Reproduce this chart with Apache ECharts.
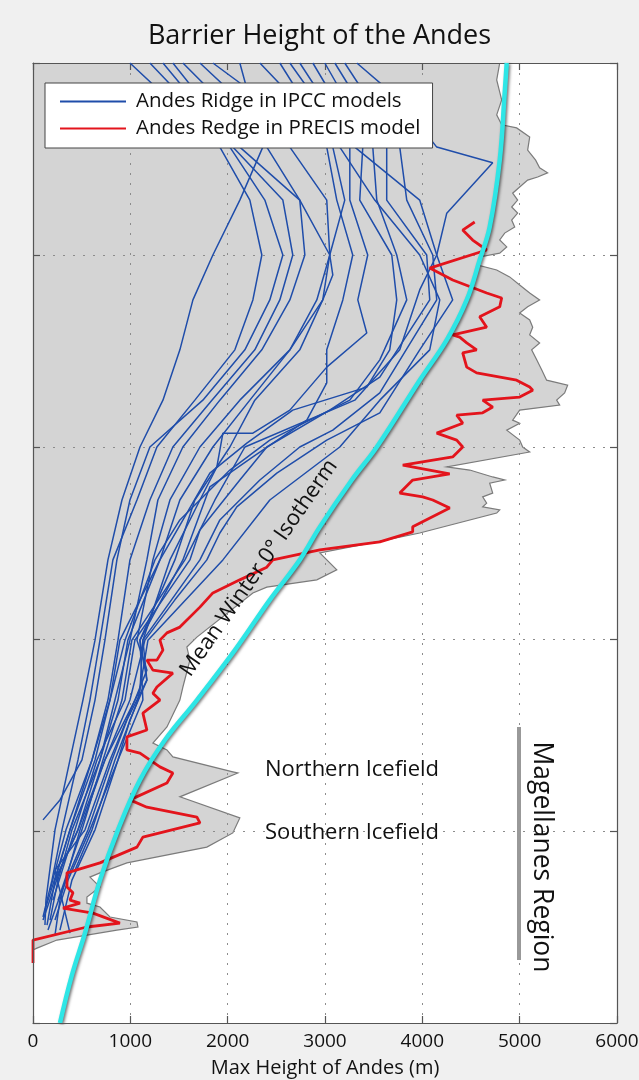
<!DOCTYPE html>
<html>
<head>
<meta charset="utf-8">
<title>Barrier Height of the Andes</title>
<script src="https://cdn.jsdelivr.net/npm/echarts@6/dist/echarts.min.js"></script>
<style>
  html, body { margin: 0; padding: 0; background: #f0f0f0; }
  #chart { width: 639px; height: 1080px; }
</style>
</head>
<body>
<div id="chart"></div>
<script>
// x = max ridge height (m), y = latitude (deg, negative = south)
const xTicks = [0, 1000, 2000, 3000, 4000, 5000, 6000];

// observed max terrain height (grey area outline)
const terrain = [[4795,-30],[4764,-30.44],[4815,-30.96],[4764,-31.35],[4815,-31.61],[4969,-31.69],[5103,-31.93],
  [5082,-32.27],[5164,-32.53],[5205,-32.73],[5287,-32.86],[5185,-32.97],[5082,-33.05],[5000,-33.23],[4928,-33.39],
  [4979,-33.57],[4918,-33.75],[4979,-33.91],[4918,-34.09],[4949,-34.27],[4846,-34.43],[4795,-34.61],[4867,-34.79],
  [4795,-34.95],[4589,-35.05],[4569,-35.26],[4764,-35.39],[4897,-35.57],[5000,-35.78],[5103,-35.99],[5205,-36.17],
  [5082,-36.35],[5000,-36.51],[5103,-36.69],[5134,-36.88],[5103,-37.08],[5205,-37.29],[5123,-37.47],[5175,-37.73],
  [5226,-37.99],[5277,-38.26],[5493,-38.39],[5462,-38.59],[5380,-38.78],[5411,-38.91],[5000,-39.04],[4928,-39.3],
  [5000,-39.38],[4867,-39.56],[5000,-39.82],[5031,-40],[5103,-40.13],[4251,-40.52],[4487,-40.6],[4723,-40.78],
  [4846,-40.86],[4692,-40.94],[4723,-41.2],[4620,-41.3],[4661,-41.46],[4620,-41.56],[4795,-41.64],[4764,-41.72],
  [3973,-42.24],[3634,-42.42],[2947,-42.76],[3121,-43.2],[2916,-43.46],[2402,-43.65],[2259,-43.8],[1684,-44.95],
  [1581,-45.21],[1612,-45.55],[1540,-46.25],[1509,-46.59],[1376,-47.29],[1232,-47.71],[1376,-47.89],[1437,-48.07],
  [2053,-48.46],[2105,-48.49],[1509,-49.11],[2125,-49.66],[2053,-50.05],[1786,-50.42],[965,-50.83],[688,-51.09],
  [585,-51.2],[688,-51.46],[554,-51.72],[554,-51.88],[688,-51.98],[791,-52.24],[1068,-52.37],[1078,-52.5],
  [862,-52.58],[246,-52.84],[41,-53.05],[0,-53.1]];

// PRECIS regional model ridge
const precis = [[4538,-34.14],[4415,-34.35],[4517,-34.61],[4661,-34.87],[4076,-35.34],[4312,-35.65],[4661,-35.99],
  [4815,-36.12],[4795,-36.35],[4589,-36.61],[4661,-36.88],[4312,-37.08],[4384,-37.14],[4456,-37.29],[4558,-37.47],
  [4415,-37.55],[4456,-37.92],[4558,-38.07],[4969,-38.26],[5103,-38.44],[5134,-38.52],[5000,-38.7],[4620,-38.78],
  [4723,-38.96],[4620,-39.11],[4353,-39.17],[4415,-39.38],[4148,-39.64],[4353,-39.82],[4415,-40],[4312,-40.26],
  [3799,-40.47],[4281,-40.7],[3901,-40.86],[3768,-41.2],[4004,-41.3],[4107,-41.38],[4281,-41.59],[3901,-42.08],
  [3901,-42.21],[3563,-42.47],[2947,-42.68],[2464,-42.94],[2402,-43.13],[2125,-43.46],[1848,-43.8],[1715,-44.17],
  [1509,-44.69],[1376,-44.84],[1304,-45.03],[1335,-45.29],[1273,-45.55],[1170,-45.55],[1232,-45.81],[1437,-45.89],
  [1273,-46.25],[1232,-46.41],[1304,-46.59],[1129,-46.93],[1170,-47.37],[965,-47.55],[965,-47.89],[1099,-47.97],
  [1304,-48.33],[1437,-48.49],[1376,-48.75],[996,-49.19],[1170,-49.38],[1684,-49.64],[1715,-49.79],[1129,-50.16],
  [1068,-50.42],[688,-50.83],[349,-51.09],[349,-51.46],[411,-51.61],[380,-51.8],[483,-51.88],[308,-52.01],
  [616,-52.14],[893,-52.4],[554,-52.5],[0,-52.84],[0,-53.44]];

// mean winter 0 degree isotherm
const isotherm = [[277,-55],[400,-53.75],[534,-52.66],[688,-51.28],[873,-49.97],[1099,-48.67],[1355,-47.63],
  [1684,-46.59],[2074,-45.29],[2433,-43.98],[2741,-42.94],[2947,-42.08],[3275,-40.86],[3532,-40],[3973,-38.26],
  [4251,-37.21],[4456,-36.17],[4589,-35.13],[4692,-34.27],[4795,-32.53],[4846,-30.78],[4867,-30]];

// IPCC model ridges
const m01 = [[2125,-30],[2361,-32.19],[2125,-33.57],[1848,-35],[1643,-36.17],[1509,-37.47],[1335,-38.78],[1099,-40],[914,-41.38],[770,-42.94],[637,-45.03],[513,-46.59],[380,-48.15],[226,-49.97],[133,-51.8],[123,-52.45]];
const m02 = [[996,-30],[1920,-32.19],[2228,-33.57],[2351,-35],[2259,-36.17],[2074,-37.47],[1663,-38.78],[1273,-40],[1068,-41.38],[821,-42.94],[688,-45.03],[585,-46.59],[462,-48.15],[298,-49.97],[195,-51.28],[103,-52.24]];
const m03 = [[1335,-30],[2053,-32.19],[2567,-33.57],[2669,-35],[2536,-36.17],[2279,-37.47],[1838,-38.78],[1437,-40],[1201,-41.38],[996,-42.94],[873,-45.03],[770,-46.59],[606,-48.15],[380,-49.97],[226,-51.28],[144,-52.45]];
const m04 = [[1437,-30],[2125,-32.19],[2741,-33.57],[2793,-35],[2639,-36.17],[2351,-37.47],[1920,-38.78],[1540,-40],[1283,-41.38],[1170,-42.94],[996,-45.03],[842,-46.59],[688,-48.15],[462,-49.97],[277,-51.02],[103,-52.32]];
const m05 = [[1540,-30],[2402,-32.19],[2741,-33.57],[3049,-35],[3080,-35.52],[2977,-36.17],[2639,-37.47],[2125,-38.78],[1715,-40],[1407,-41.38],[1232,-42.94],[1068,-45.03],[1170,-45.81],[1047,-46.59],[791,-48.15],[534,-49.97],[226,-51.02],[380,-52.66]];
const m06 = [[1848,-30],[3018,-32.19],[3121,-33.57],[3285,-35],[3183,-36.17],[3018,-37.47],[3018,-38.33],[2813,-39.3],[2259,-40.26],[1817,-41.04],[1540,-42.94],[1099,-45.03],[1170,-46.07],[996,-47.11],[873,-48.15],[637,-49.97],[400,-51.28],[277,-52.58]];
const m07 = [[2639,-30],[3255,-32.19],[3255,-33.57],[3439,-35],[3337,-36.17],[3429,-37.03],[3018,-37.92],[2639,-39.04],[2259,-39.64],[1951,-39.64],[1889,-40.52],[1715,-41.38],[1407,-42.94],[1129,-45.03],[1099,-46.33],[739,-48.15],[483,-49.97],[277,-51.8],[226,-52.71]];
const m08 = [[2875,-30],[3388,-32.19],[3357,-33.57],[3686,-35],[3737,-36.17],[3665,-37.47],[3429,-38.44],[2669,-39.04],[2197,-39.9],[1817,-40.68],[1581,-41.72],[1304,-42.94],[975,-45.03],[873,-46.59],[688,-48.15],[400,-49.97],[257,-51.28],[175,-52.32]];
const m09 = [[2998,-30],[3491,-32.19],[3532,-33.57],[3737,-35],[3840,-36.17],[3563,-37.73],[3255,-38.78],[2433,-39.82],[2023,-40.6],[1509,-41.9],[1253,-42.94],[945,-45.03],[791,-46.59],[606,-48.15],[339,-49.97],[175,-51.54]];
const m10 = [[3101,-30],[3634,-32.19],[3634,-33.57],[4045,-35],[4076,-36.17],[3563,-38.18],[3049,-39.04],[2402,-40],[2125,-40.86],[1715,-42.16],[1612,-42.94],[1047,-45.03],[945,-46.59],[657,-48.15],[431,-49.97],[205,-51.8]];
const m11 = [[3203,-30],[3768,-32.19],[3840,-33.57],[4107,-35],[4148,-36.17],[3563,-38.59],[3080,-39.56],[2741,-40],[2331,-40.86],[1920,-41.9],[1715,-42.94],[1129,-45.03],[1170,-46.07],[965,-47.11],[811,-48.15],[565,-49.97],[298,-51.54],[154,-52.58]];
const m12 = [[3327,-30],[3768,-30.96],[4148,-32.19],[4723,-32.6],[4251,-33.91],[4148,-35],[4312,-36.17],[3973,-37.47],[3563,-39.11],[3018,-39.82],[2505,-40.68],[2094,-41.56],[1920,-42.24],[1786,-42.94],[1458,-43.98],[1150,-45.03],[996,-46.59],[739,-48.15],[462,-49.97],[226,-51.28]];
const m13 = [[1201,-30],[2023,-32.19],[2382,-33.57],[2567,-35],[2433,-36.17],[2177,-37.47],[1745,-38.78],[1201,-40],[996,-41.38],[862,-42.94],[739,-45.03],[637,-46.59],[503,-48.15],[277,-49.19],[103,-49.71]];
const m14 = [[1715,-30],[2639,-32.19],[3018,-33.57],[3049,-35],[2977,-36.17],[2741,-37.47],[2279,-38.78],[2023,-40],[1663,-41.38],[1458,-42.94],[1099,-45.03],[1129,-46.59],[873,-48.15],[585,-49.97],[359,-51.28],[226,-52.32]];
const m15 = [[2331,-30],[3152,-32.19],[3511,-33.57],[3973,-35],[4179,-36.17],[4076,-37.47],[3563,-38.78],[3152,-40],[2433,-41.38],[1951,-42.94],[1181,-45.03],[1078,-46.59],[842,-48.15],[606,-49.97],[431,-51.02]];
const m16 = [[2741,-30],[3306,-32.19],[3973,-33.57],[4148,-35],[3973,-35.91],[3768,-37.47],[3306,-38.78],[2177,-40],[1869,-41.38],[1561,-42.94],[1016,-45.03],[914,-46.59],[719,-48.15],[503,-49.97],[257,-51.8]];
const m17 = [[2536,-30],[3080,-32.19],[3203,-33.57],[3049,-35],[2916,-36.17],[2639,-37.47],[2228,-38.78],[1848,-40],[1509,-41.38],[1304,-42.94],[893,-45.03],[791,-46.59],[637,-48.15],[380,-49.97],[123,-52.06]];
const ipccRidges = [m01, m02, m03, m04, m05, m06, m07, m08, m09, m10, m11, m12, m13, m14, m15, m16, m17];

const FONT = 'Open Sans';
const IPCC = 'Andes Ridge in IPCC models';
const PRECIS = 'Andes Redge in PRECIS model';

const chart = echarts.init(document.getElementById('chart'));

const frameLine = { show: true, onZero: false, lineStyle: { color: '#555', width: 1.2 } };
const frameTick = { show: true, inside: true, length: 7, lineStyle: { color: '#555', width: 1.2 } };
const dotted = { show: true, lineStyle: { color: '#8c8c8c', width: 1, type: [2, 8] } };

const ipccSeries = ipccRidges.map(d => ({
  name: IPCC, type: 'line', data: d, symbol: 'none', z: 3,
  lineStyle: { color: '#1f4daa', width: 1.5 }, itemStyle: { color: '#1f4daa' }
}));

chart.setOption({
  animation: false,
  backgroundColor: '#f0f0f0',
  title: {
    text: 'Barrier Height of the Andes', left: 'center', top: 18,
    textStyle: { fontFamily: FONT, fontSize: 27, fontWeight: 'normal', color: '#111' }
  },
  legend: {
    data: [IPCC, PRECIS], orient: 'vertical', left: 45, top: 83,
    backgroundColor: '#fff', borderColor: '#444', borderWidth: 1,
    padding: [8, 12, 9, 14], itemGap: 6, itemWidth: 66, itemHeight: 14,
    selectedMode: false, z: 20,
    itemStyle: { opacity: 0 },
    textStyle: { fontFamily: FONT, fontSize: 20.5, color: '#111', padding: [0, 0, 0, 5] }
  },
  grid: { left: 33, right: 22, top: 63, bottom: 57, show: true, backgroundColor: '#fff', borderWidth: 0, outerBoundsMode: 'none' },
  xAxis: [
    { type: 'value', position: 'bottom', min: 0, max: 6000, interval: 1000, z: 10,
      axisLine: frameLine, axisTick: frameTick, splitLine: { show: false },
      axisLabel: { color: '#111', fontFamily: FONT, fontSize: 19, margin: 9, showMinLabel: true, showMaxLabel: true,
        formatter: v => xTicks.includes(v) ? String(v) : '' },
      name: 'Max Height of Andes (m)', nameLocation: 'middle', nameGap: 35,
      nameTextStyle: { color: '#111', fontFamily: FONT, fontSize: 20 } },
    { type: 'value', position: 'top', min: 0, max: 6000, interval: 1000, z: 2,
      axisLine: frameLine, axisTick: frameTick, axisLabel: { show: false }, splitLine: dotted }
  ],
  yAxis: [
    { type: 'value', position: 'left', min: -55, max: -30, interval: 5, z: 10,
      axisLine: frameLine, axisTick: frameTick, axisLabel: { show: false }, splitLine: { show: false } },
    { type: 'value', position: 'right', min: -55, max: -30, interval: 5, z: 2,
      axisLine: frameLine, axisTick: frameTick, axisLabel: { show: false }, splitLine: dotted }
  ],
  series: [
    {
      type: 'custom', z: 1, silent: true, data: [[0, -40]],
      renderItem: (params, api) => {
        const edge = terrain.map(p => api.coord(p));
        const poly = [api.coord([0, terrain[0][1]])].concat(edge, [api.coord([0, terrain[terrain.length - 1][1]])]);
        return { type: 'group', children: [
          { type: 'polygon', shape: { points: poly }, style: { fill: '#d4d4d4' } },
          { type: 'polyline', shape: { points: edge }, style: { stroke: '#7b7b7b', lineWidth: 1.2, fill: null } }
        ] };
      }
    },
    ...ipccSeries,
    { name: PRECIS, type: 'line', data: precis, symbol: 'none', z: 4,
      lineStyle: { color: '#e3141c', width: 2.8 }, itemStyle: { color: '#e3141c' } },
    { name: 'isotherm', type: 'line', data: isotherm, symbol: 'none', smooth: 0.4, z: 5,
      lineStyle: { color: '#2ee6e6', width: 4.5, shadowColor: 'rgba(0,0,0,0.55)', shadowBlur: 3, shadowOffsetX: 1.5, shadowOffsetY: 1 } }
  ],
  graphic: [
    { type: 'text', z: 30, x: 259, y: 568, rotation: 0.963,
      style: { text: 'Mean Winter 0° Isotherm', font: '22px "Open Sans"', fill: '#111', align: 'center', verticalAlign: 'middle' } },
    { type: 'text', z: 30, x: 265, y: 770,
      style: { text: 'Northern Icefield', font: '22px "Open Sans"', fill: '#111', align: 'left', verticalAlign: 'middle' } },
    { type: 'text', z: 30, x: 265, y: 833,
      style: { text: 'Southern Icefield', font: '22px "Open Sans"', fill: '#111', align: 'left', verticalAlign: 'middle' } },
    { type: 'line', z: 30, shape: { x1: 519, y1: 727, x2: 519, y2: 960 }, style: { stroke: '#999', lineWidth: 4 } },
    { type: 'text', z: 30, x: 542, y: 857, rotation: -Math.PI / 2,
      style: { text: 'Magellanes Region', font: '26.5px "Open Sans"', fill: '#111', align: 'center', verticalAlign: 'middle' } }
  ]
});
</script>
</body>
</html>
